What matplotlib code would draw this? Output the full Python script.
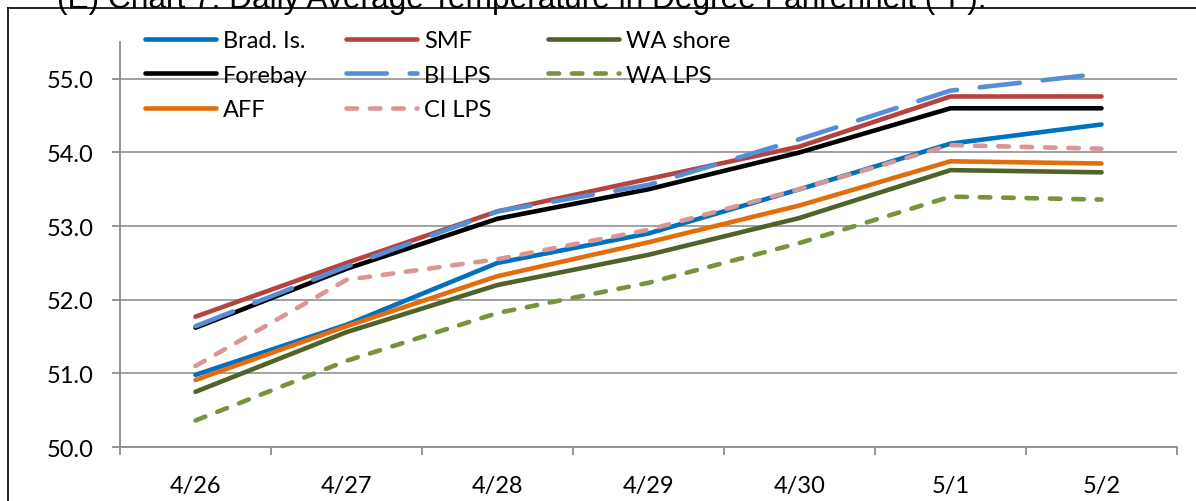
import matplotlib
matplotlib.use("Agg")
import matplotlib.pyplot as plt
from matplotlib.lines import Line2D

# daily average temperature (deg F)
days = ["4/26", "4/27", "4/28", "4/29", "4/30", "5/1", "5/2"]
brad_is = [50.98, 51.66, 52.50, 52.90, 53.50, 54.12, 54.38]
smf = [51.77, 52.50, 53.20, 53.64, 54.08, 54.76, 54.76]
wa_shore = [50.75, 51.56, 52.20, 52.61, 53.11, 53.76, 53.73]
forebay = [51.62, 52.42, 53.10, 53.50, 54.00, 54.60, 54.60]
bi_lps = [51.64, 52.45, 53.20, 53.56, 54.18, 54.84, 55.07]
wa_lps = [50.36, 51.17, 51.82, 52.23, 52.77, 53.40, 53.36]
aff = [50.91, 51.64, 52.32, 52.78, 53.28, 53.88, 53.85]
ci_lps = [51.10, 52.27, 52.55, 52.95, 53.50, 54.10, 54.05]

W, H = 1196, 502
fig = plt.figure(figsize=(W / 100, H / 100), dpi=100)
plt.rcParams['font.family'] = ['Lato', 'DejaVu Sans']

ax = fig.add_axes([120 / W, 1 - 448 / H, (1177 - 120) / W, (448 - 43) / H])

lw = 3.3
series = [
    ("Brad. Is.", brad_is, "#0070C0", None),
    ("SMF", smf, "#B5433F", None),
    ("WA shore", wa_shore, "#4F6228", None),
    ("Forebay", forebay, "#000000", None),
    ("BI LPS", bi_lps, "#558ED5", (0, (8.8, 5.0))),
    ("WA LPS", wa_lps, "#77933C", (0, (2.3, 2.8))),
    ("AFF", aff, "#E46C0A", None),
    ("CI LPS", ci_lps, "#D99694", (0, (2.3, 2.8))),
]
x = list(range(len(days)))
handles = {}
for name, vals, col, ls in series:
    h, = ax.plot(x, vals, color=col, lw=lw, linestyle=ls if ls else "-",
                 solid_capstyle="round", dash_capstyle="round",
                 solid_joinstyle="round")
    handles[name] = h

ax.set_xlim(-0.5, 6.5)
ax.set_ylim(50, 55.5)
ax.set_yticks([50, 51, 52, 53, 54, 55])
ax.set_yticklabels([f"{v:.1f}" for v in [50, 51, 52, 53, 54, 55]])
ax.set_xticks(x)
ax.set_xticklabels(days)
ax.set_xticks([i - 0.5 for i in range(8)], minor=True)
ax.tick_params(axis="x", which="major", length=0, pad=20, labelsize=17)
ax.tick_params(axis="x", which="minor", length=6, width=1.3, color="#8c8c8c")
ax.tick_params(axis="y", length=6, width=1.3, color="#8c8c8c", pad=13, labelsize=17)
ax.grid(axis="y", color="#9a9a9a", lw=1.3)
ax.set_axisbelow(True)
for s in ["top", "right"]:
    ax.spines[s].set_visible(False)
for s in ["left", "bottom"]:
    ax.spines[s].set_color("#8c8c8c")
    ax.spines[s].set_linewidth(1.3)

# legend, three columns like the Excel one
cols = [["Brad. Is.", "Forebay", "AFF"], ["SMF", "BI LPS", "CI LPS"], ["WA shore", "WA LPS"]]
col_x = [145, 346, 548]
for names, cx in zip(cols, col_x):
    leg = fig.legend([handles[n] for n in names], names, loc="upper left",
                     bbox_to_anchor=(cx / W, 1 - 31 / H), frameon=False,
                     fontsize=17, handlelength=3.0, handletextpad=0.3,
                     labelspacing=0.58, borderpad=0, borderaxespad=0)

# cut-off caption above the chart frame
fig.text(57 / W, 1 - 8 / H, "(E) Chart 7: Daily Average Temperature in Degree Fahrenheit (°F).",
         family="Liberation Sans", fontsize=22.8, va="baseline", ha="left")
fig.add_artist(Line2D([7.5 / W, 1], [1 - 8.5 / H, 1 - 8.5 / H], color="black", lw=1.2))
fig.add_artist(Line2D([7.5 / W, 7.5 / W], [0, 1 - 8.5 / H], color="black", lw=1.2))

fig.savefig("out.png", dpi=100)
